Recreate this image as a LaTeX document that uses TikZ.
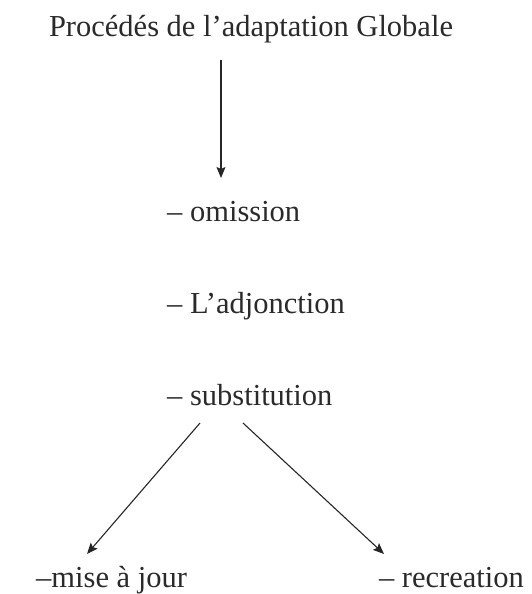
\documentclass[tikz,border=0pt]{standalone}
\usepackage{fontspec}
\setmainfont{Liberation Serif}
\usetikzlibrary{arrows.meta}
\definecolor{txt}{HTML}{2A2A2A}
\tikzset{
  lbl/.style={inner sep=0pt, text=txt, font=\fontsize{30.5}{36}\selectfont},
  arr/.style={draw=black!85, line width=1.1pt, -{Stealth[length=11pt,width=9pt,inset=2pt]}}
}
\begin{document}
\begin{tikzpicture}[x=1pt,y=-1pt]
\useasboundingbox (0,0) rectangle (531,594);
\node[lbl, anchor=base] (title) at (251,37) {Procédés de l’adaptation Globale};
\node[lbl, anchor=base west] (om) at (167,221) {– omission};
\node[lbl, anchor=base west] (adj) at (167,313) {– L’adjonction};
\node[lbl, anchor=base west] (sub) at (167,405) {– substitution};
\node[lbl, anchor=base west] (maj) at (36,587) {–mise à jour};
\node[lbl, anchor=base east] (rec) at (524,587) {– recreation};
\coordinate (t1) at (221,60);
\coordinate (t2) at (221,178);
\coordinate (s1) at (200,423);
\coordinate (m1) at (87,554);
\coordinate (s2) at (243,423);
\coordinate (r1) at (384,554);
\draw[arr] (t1) -- (t2);
\draw[arr] (s1) -- (m1);
\draw[arr] (s2) -- (r1);
\end{tikzpicture}
\end{document}
